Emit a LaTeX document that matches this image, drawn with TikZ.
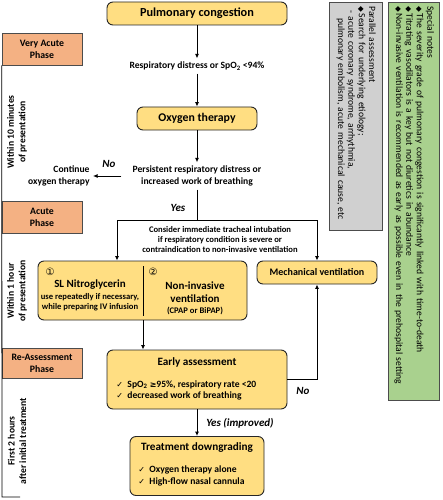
\documentclass[tikz,border=0pt]{standalone}
\usepackage{fontspec}
\setmainfont{Carlito}
\newfontfamily\symf{DejaVu Sans}
\usetikzlibrary{arrows.meta,positioning,calc}
\definecolor{boxyellow}{HTML}{FFDE82}
\definecolor{phasesalmon}{HTML}{F4B183}
\definecolor{notegray}{HTML}{D0D0D0}
\definecolor{notegreen}{HTML}{A9D18E}
\tikzset{
  flowbox/.style={draw=black!85,fill=boxyellow,line width=0.9pt,rounded corners=6pt,inner sep=0pt,align=center},
  phasebox/.style={draw=black!70,fill=phasesalmon,line width=0.6pt,minimum width=80pt,minimum height=32pt,inner sep=0pt,align=center,font=\fontsize{9.8}{12}\selectfont\bfseries},
  timespan/.style={rotate=90,align=center,font=\fontsize{9.6}{11.5}\selectfont\bfseries},
  cue/.style={align=center,inner sep=3pt,font=\fontsize{9.6}{12}\selectfont\bfseries},
  small/.style={align=center,inner sep=1pt,font=\fontsize{8.6}{10}\selectfont\bfseries},
  title/.style={font=\fontsize{11.2}{13}\selectfont\bfseries},
  checks/.style={align=left,inner sep=0pt,font=\fontsize{9.6}{11.5}\selectfont\bfseries},
  tag/.style={font=\fontsize{11}{13}\selectfont\bfseries\itshape},
  notebox/.style={draw=black!70,line width=0.6pt,rotate=-90,anchor=north west,inner sep=4pt,align=left,font=\fontsize{9.6}{10.4}\selectfont},
}
\newcommand{\tick}{{\symf\fontsize{8}{9}\selectfont ✓}\ \ }
\newcommand{\dia}{{\symf\fontsize{7.5}{9}\selectfont ◆}\,}

\begin{document}
\begin{tikzpicture}[x=1pt,y=-1pt,line width=0.9pt,>={Latex[length=4.5pt,width=4pt]}]
  \useasboundingbox (0,0) rectangle (442,500);
  % phases on the left
  \node[phasebox] (va) at (42,49) {Very Acute\\Phase};
  \node[phasebox] (ac) at (42,217.5) {Acute\\Phase};
  \node[phasebox,minimum height=30pt] (re) at (42,363.5) {Re-Assessment\\Phase};
  \coordinate (tl) at (2,497);
  \draw[line width=0.8pt] (va.south west) -- (tl) -- ++(18,0);
  \node[timespan] (t1) at (17,132) {Within 10 minutes\\of presentation};
  \node[timespan] (t2) at (17,291) {Within 1 hour\\of presentation};
  \node[timespan] (t3) at (17,441) {First 2 hours\\after initial treatment};

  % main flow
  \node[flowbox,minimum width=180pt,minimum height=23pt,font=\fontsize{12.3}{14}\selectfont\bfseries] (pc) at (197,13.5) {Pulmonary congestion};
  \node[cue] (resp) at (197,66) {Respiratory distress or SpO\textsubscript{2} <94\%};
  \node[flowbox,minimum width=120pt,minimum height=23pt,font=\fontsize{11.8}{14}\selectfont\bfseries] (oxy) at (197,118.5) {Oxygen therapy};
  \node[cue] (pers) at (197,176) {Persistent respiratory distress or\\increased work of breathing};
  \node[cue,align=right,anchor=east] (cont) at (93,176) {Continue\\oxygen therapy};
  \node[tag] (no1) at (109,164) {No};
  \draw[->] (pc) -- (resp);
  \draw[->] (resp) -- (oxy);
  \draw[->] (oxy) -- (pers);
  \draw[->,shorten <=8pt] (pers.west) -- (cont.east);

  \coordinate (split) at (197,220);
  \coordinate (lft) at (117,220);
  \coordinate (rgt) at (317,220);
  \node[tag] (yes1) at (178,208) {Yes};
  \node[small] (cons) at (220,240) {Consider immediate tracheal intubation\\if respiratory condition is severe or\\contraindication to non-invasive ventilation};

  \node[flowbox,minimum width=209pt,minimum height=59pt] (combo) at (142.5,290.5) {};
  \draw[line width=1pt] (143,266) -- (143,316);
  \node[font=\symf\fontsize{10}{12}\selectfont] (n1) at (50,272) {①};
  \node[font=\symf\fontsize{10}{12}\selectfont] (n2) at (153,272) {②};
  \node[title,font=\fontsize{11}{13}\selectfont\bfseries] (ntg) at (90,285) {SL Nitroglycerin};
  \node[small] (ntgx) at (90,302) {use repeatedly if necessary,\\while preparing IV infusion};
  \node[title,align=center,font=\fontsize{11}{13}\selectfont\bfseries] (niv) at (195,292) {Non-invasive\\ventilation};
  \node[small] (nivx) at (195,311) {(CPAP or BiPAP)};
  \node[flowbox,minimum width=120pt,minimum height=23pt,font=\fontsize{10}{12}\selectfont\bfseries] (mech) at (317,272.5) {Mechanical ventilation};

  \draw (pers) -- (split);
  \draw (lft) -- (rgt);
  \draw[->] (lft) -- (lft |- combo.north);
  \draw[->] (rgt) -- (mech);

  \node[flowbox,minimum width=180pt,minimum height=59pt] (early) at (197,379.5) {};
  \node[title] (earlyT) at (197,362) {Early assessment};
  \node[checks,anchor=west] (earlyC) at (116,390.5) {\tick SpO\textsubscript{2} {\symf\fontsize{8}{9}\selectfont ≥}95\%, respiratory rate <20\\\tick decreased work of breathing};
  \coordinate (cb) at (143,320);
  \draw[->] (cb) -- (cb |- early.north);

  \node[flowbox,minimum width=134pt,minimum height=59pt] (down) at (197,466) {};
  \node[title] (downT) at (197,448) {Treatment downgrading};
  \node[checks,anchor=west] (downC) at (138,476) {\tick Oxygen therapy alone\\\tick High-flow nasal cannula};
  \draw[->] (early) -- (down);
  \node[tag] (yes2) at (240,423) {Yes (improved)};
  \draw[->] (early.east) -| (mech.south);
  \node[tag] (no2) at (303,391) {No};

  % side notes
  \node[notebox,fill=notegray,minimum width=228pt,minimum height=53pt,text width=220pt] (par) at (383,2)
    {Parallel assessment\\\dia Search for underlying etiology;\\\hspace*{4pt}- acute coronary syndrome, arrhythmia,\\\hspace*{12pt}pulmonary embolism, acute mechanical cause, etc};
  \node[notebox,fill=notegreen,minimum width=398pt,minimum height=51pt,text width=390pt] (notes) at (440,2)
    {Special notes\\\dia The severity grade of pulmonary congestion is significantly linked with time-to-death\\\dia Titrating vasodilators is a key but not diuretics in abundance\\\dia Non-invasive ventilation is recommended as early as possible even in the prehospital setting};
\end{tikzpicture}
\end{document}
